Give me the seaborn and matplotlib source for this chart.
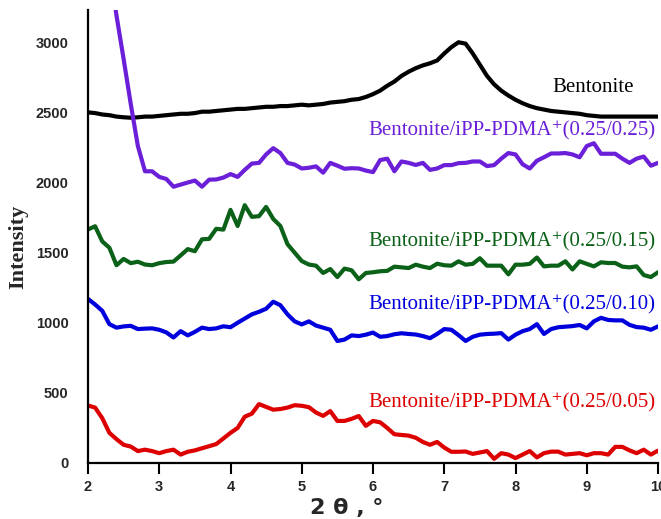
import numpy as np
import pandas as pd
import matplotlib
matplotlib.use("Agg")
import matplotlib.pyplot as plt
import seaborn as sns

two_theta = [round(2.0 + 0.1 * i, 1) for i in range(81)]

bentonite = [2500, 2495, 2485, 2480, 2470, 2465, 2462, 2465, 2470, 2470,
             2475, 2480, 2485, 2490, 2490, 2495, 2505, 2505, 2510, 2515,
             2520, 2525, 2525, 2530, 2535, 2540, 2540, 2545, 2545, 2550,
             2555, 2550, 2555, 2560, 2570, 2575, 2580, 2590, 2595, 2610,
             2630, 2655, 2690, 2720, 2760, 2790, 2815, 2835, 2850, 2870,
             2920, 2965, 3000, 2990, 2920, 2840, 2760, 2700, 2655, 2620,
             2590, 2565, 2545, 2530, 2520, 2510, 2505, 2500, 2495, 2490,
             2480, 2475, 2470, 2470, 2470, 2470, 2470, 2470, 2470, 2470, 2470]

pdma_025 = [4800, 4400, 3950, 3550, 3190, 2880, 2560, 2260, 2080, 2080,
            2040, 2025, 1970, 1985, 2000, 2014, 1970, 2020, 2022, 2035,
            2060, 2040, 2090, 2135, 2140, 2200, 2245, 2210, 2140, 2128,
            2100, 2105, 2115, 2070, 2140, 2120, 2098, 2102, 2100, 2085,
            2074, 2160, 2170, 2080, 2150, 2140, 2125, 2140, 2090, 2100,
            2124, 2124, 2138, 2140, 2150, 2150, 2117, 2124, 2170, 2210,
            2200, 2130, 2100, 2155, 2180, 2207, 2207, 2210, 2200, 2180,
            2260, 2280, 2205, 2205, 2205, 2170, 2140, 2170, 2185, 2120, 2140]

pdma_015 = [1665, 1688, 1580, 1535, 1410, 1455, 1425, 1435, 1415, 1410,
            1425, 1433, 1436, 1480, 1525, 1510, 1595, 1598, 1670, 1664,
            1805, 1690, 1838, 1755, 1760, 1826, 1740, 1690, 1560, 1500,
            1440, 1415, 1407, 1355, 1383, 1326, 1386, 1374, 1310, 1355,
            1360, 1367, 1370, 1400, 1395, 1390, 1414, 1400, 1390, 1421,
            1410, 1407, 1438, 1414, 1420, 1460, 1407, 1407, 1407, 1345,
            1414, 1414, 1420, 1465, 1402, 1407, 1407, 1438, 1380, 1438,
            1420, 1402, 1431, 1426, 1426, 1400, 1395, 1402, 1340, 1326, 1360]

pdma_010 = [1170, 1130, 1085, 990, 965, 974, 978, 955, 958, 960,
            950, 931, 895, 940, 910, 935, 965, 955, 960, 975,
            968, 1000, 1030, 1060, 1078, 1100, 1150, 1125, 1060, 1010,
            988, 1010, 980, 965, 950, 870, 880, 910, 905, 915,
            930, 900, 905, 918, 925, 920, 916, 905, 890, 920,
            955, 950, 912, 870, 900, 915, 920, 922, 926, 880,
            915, 940, 955, 990, 920, 955, 968, 972, 976, 984,
            960, 1010, 1035, 1020, 1017, 1017, 985, 969, 965, 950, 974]

pdma_005 = [410, 395, 320, 215, 170, 130, 117, 85, 95, 85,
            70, 85, 95, 60, 80, 90, 105, 120, 135, 175,
            215, 250, 330, 352, 420, 400, 380, 385, 395, 412,
            408, 398, 360, 336, 370, 300, 300, 315, 335, 265,
            300, 290, 250, 205, 200, 195, 180, 150, 130, 150,
            110, 80, 80, 82, 65, 75, 85, 30, 70, 60,
            35, 60, 85, 40, 70, 81, 81, 60, 65, 70,
            55, 70, 70, 60, 115, 115, 90, 70, 95, 60, 88]

series_names = ["Bentonite",
                "Bentonite/iPP-PDMA\u207a(0.25/0.25)",
                "Bentonite/iPP-PDMA\u207a(0.25/0.15)",
                "Bentonite/iPP-PDMA\u207a(0.25/0.10)",
                "Bentonite/iPP-PDMA\u207a(0.25/0.05)"]
series_values = [bentonite, pdma_025, pdma_015, pdma_010, pdma_005]
colors = ["#000000", "#6B1FD8", "#0B6118", "#0000DD", "#DD0000"]
label_pos = [(9.66, 2679), (9.96, 2371), (9.96, 1579), (9.96, 1129), (9.96, 429)]

x_ticks = [2, 3, 4, 5, 6, 7, 8, 9, 10]
y_ticks = [0, 500, 1000, 1500, 2000, 2500, 3000]

sns.set_theme(style="white")
plt.rcParams["font.family"] = ["Liberation Sans", "DejaVu Sans"]

frames = []
for name, vals in zip(series_names, series_values):
    frames.append(pd.DataFrame({"two_theta": two_theta, "intensity": vals, "sample": name}))
df = pd.concat(frames, ignore_index=True)

fig = plt.figure(figsize=(6.61, 5.19), dpi=100)
ax = fig.add_axes([88 / 661, 1 - 463 / 519, (658 - 88) / 661, (463 - 10) / 519])

sns.lineplot(data=df, x="two_theta", y="intensity", hue="sample",
             palette=dict(zip(series_names, colors)), hue_order=series_names,
             linewidth=3, legend=False, ax=ax, estimator=None, sort=False)

ax.set_xlim(2, 10)
ax.set_ylim(0, 3230)
ax.set_xticks(x_ticks)
ax.set_yticks(y_ticks)
ax.set_xticklabels([str(t) for t in x_ticks], fontsize=10.5, fontweight="bold")
ax.set_yticklabels([str(t) for t in y_ticks], fontsize=10.5, fontweight="bold")
ax.tick_params(axis="x", direction="out", length=8, width=1.5, pad=4, color="black", bottom=True)
ax.tick_params(axis="y", length=0, pad=14)

for side in ["top", "right"]:
    ax.spines[side].set_visible(False)
for side in ["left", "bottom"]:
    ax.spines[side].set_color("black")
    ax.spines[side].set_linewidth(1.6)

ax.set_xlabel("")
ax.set_ylabel("")
fig.text(347 / 661, 1 - 508 / 519, "2 \u03b8 , \u00b0", fontsize=16, fontweight="bold",
         family=["DejaVu Sans"], ha="center", va="center")
fig.text(18 / 661, 1 - 247 / 519, "Intensity", fontsize=16, fontweight="bold",
         family=["Liberation Serif", "DejaVu Serif"], rotation=90, ha="center", va="center")

for name, col, (lx, ly) in zip(series_names, colors, label_pos):
    ax.text(lx, ly, name, color=col, ha="right", va="center", fontsize=15,
            family=["Liberation Serif", "DejaVu Serif"])

fig.savefig("out.png", dpi=100)
